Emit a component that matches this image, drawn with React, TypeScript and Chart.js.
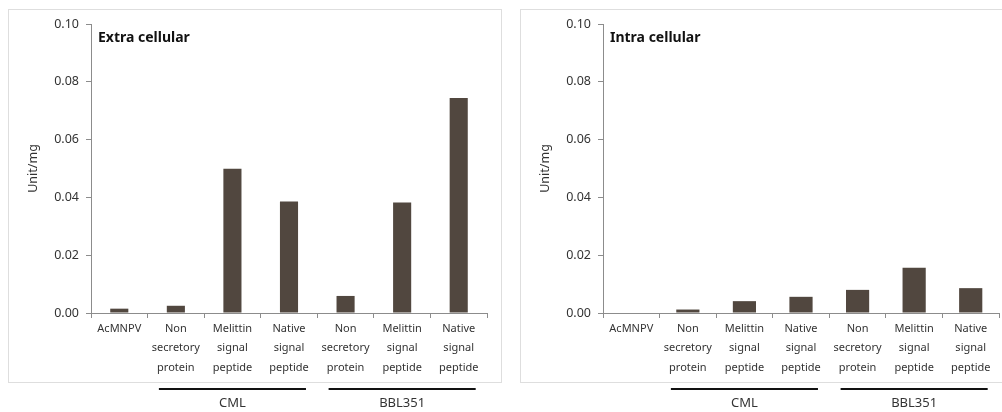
import React, { useEffect, useRef } from 'react';
import { Chart, registerables } from 'chart.js';

Chart.register(...registerables);

const categories: string[][] = [
  ['AcMNPV'],
  ['Non', 'secretory', 'protein'],
  ['Melittin', 'signal', 'peptide'],
  ['Native', 'signal', 'peptide'],
  ['Non', 'secretory', 'protein'],
  ['Melittin', 'signal', 'peptide'],
  ['Native', 'signal', 'peptide'],
];
const extraValues = [0.0015, 0.0025, 0.0499, 0.0386, 0.0059, 0.0382, 0.0744];
const intraValues = [0, 0.0012, 0.0041, 0.0056, 0.008, 0.0157, 0.0086];
const yTicks = [0, 0.02, 0.04, 0.06, 0.08, 0.1];
const groupLabels = ['CML', 'BBL351'];
const groupStart = [1, 4];
const groupEnd = [3, 6];

const FONT = '"Noto Sans", "DejaVu Sans", sans-serif';
const AXIS = '#8c8c8c';
const TEXT = '#333333';
const BAR = '#51473f';

type PanelProps = {
  title: string;
  values: number[];
  barPct: number;
  left: number;
  width: number;
  padRight: number;
};

function Panel({ title, values, barPct, left, width, padRight }: PanelProps) {
  const ref = useRef<HTMLCanvasElement | null>(null);
  useEffect(() => {
    if (!ref.current) return;
    const overlay = {
      id: 'overlay',
      afterDraw(chart: any) {
        const ctx = chart.ctx;
        const area = chart.chartArea;
        const xs = chart.scales.x;
        ctx.save();
        ctx.fillStyle = '#111';
        ctx.font = `bold 14px ${FONT}`;
        ctx.textAlign = 'left';
        ctx.textBaseline = 'middle';
        ctx.fillText(title, area.left + 7, area.top + 14);
        const w = xs.getPixelForValue(1) - xs.getPixelForValue(0);
        for (let g = 0; g < groupLabels.length; g++) {
          const x1 = xs.getPixelForValue(groupStart[g]) - w * 0.3;
          const x2 = xs.getPixelForValue(groupEnd[g]) + w * 0.3;
          const y = area.bottom + 76;
          ctx.strokeStyle = '#111';
          ctx.lineWidth = 2;
          ctx.beginPath();
          ctx.moveTo(x1, y);
          ctx.lineTo(x2, y);
          ctx.stroke();
          ctx.fillStyle = TEXT;
          ctx.font = `13px ${FONT}`;
          ctx.textAlign = 'center';
          ctx.fillText(groupLabels[g], (x1 + x2) / 2, y + 14);
        }
        ctx.restore();
      },
    };
    const chart = new Chart(ref.current, {
      type: 'bar',
      data: {
        labels: categories,
        datasets: [
          {
            data: values,
            backgroundColor: BAR,
            borderWidth: 0,
            barPercentage: barPct,
            categoryPercentage: 1,
          },
        ],
      },
      options: {
        animation: false,
        responsive: false,
        devicePixelRatio: 1,
        layout: { padding: { left: 0, right: padRight, top: 24, bottom: 0 } },
        plugins: { legend: { display: false }, tooltip: { enabled: false }, title: { display: false } },
        scales: {
          x: {
            afterFit: (s: any) => {
              s.height = 99;
            },
            grid: {
              offset: true,
              drawOnChartArea: false,
              drawTicks: true,
              tickLength: 5,
              color: AXIS,
            },
            border: { display: true, color: AXIS, width: 1 },
            ticks: {
              color: TEXT,
              font: { family: FONT, size: 11, lineHeight: 1.77 },
              padding: 1,
              maxRotation: 0,
              autoSkip: false,
            },
          },
          y: {
            min: 0,
            max: 0.1,
            afterFit: (s: any) => {
              s.width = 83;
            },
            afterBuildTicks: (s: any) => {
              s.ticks = yTicks.map((v) => ({ value: v }));
            },
            grid: {
              drawOnChartArea: false,
              drawTicks: true,
              tickLength: 5,
              color: AXIS,
            },
            border: { display: true, color: AXIS, width: 1 },
            ticks: {
              color: TEXT,
              font: { family: FONT, size: 12.5 },
              padding: 7,
              callback: (v: any) => Number(v).toFixed(2),
            },
            title: {
              display: true,
              text: 'Unit/mg',
              color: TEXT,
              font: { family: FONT, size: 12.5 },
              padding: { top: 18, bottom: 0 },
            },
          },
        },
      },
      plugins: [overlay],
    });
    return () => chart.destroy();
  }, [title, values, barPct, padRight]);
  return (
    <canvas
      ref={ref}
      width={width}
      height={412}
      style={{ position: 'absolute', left, top: 0, width, height: 412 }}
    />
  );
}

export default function App() {
  return (
    <div
      style={{
        position: 'absolute',
        left: 0,
        top: 0,
        width: 1002,
        height: 412,
        overflow: 'hidden',
        background: '#fff',
      }}
    >
      <div
        style={{
          position: 'absolute',
          left: 8,
          top: 9,
          width: 492,
          height: 372,
          border: '1px solid #dedede',
        }}
      />
      <div
        style={{
          position: 'absolute',
          left: 520,
          top: 9,
          width: 500,
          height: 372,
          border: '1px solid #dedede',
        }}
      />
      <Panel title="Extra cellular" values={extraValues} barPct={0.32} left={8} width={494} padRight={15} />
      <Panel title="Intra cellular" values={intraValues} barPct={0.41} left={520} width={482} padRight={3} />
    </div>
  );
}
